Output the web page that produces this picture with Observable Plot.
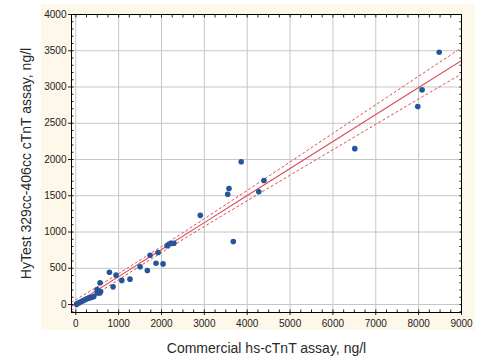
<!DOCTYPE html>
<html>
<head>
<meta charset="utf-8">
<script src="https://cdn.jsdelivr.net/npm/d3@7"></script>
<script src="https://cdn.jsdelivr.net/npm/@observablehq/plot@0.6"></script>
<style>
  body { margin: 0; background: #ffffff; }
  #wrap { position: relative; width: 504px; height: 364px; overflow: hidden; }
  #panel { position: absolute; left: 41px; top: 4px; width: 434px; height: 326px; background: #fdf8ea; }
  #chart { position: absolute; left: 0; top: 0; }
</style>
</head>
<body>
<div id="wrap"><div id="panel"></div><div id="chart"></div></div>
<script>
// Data
const commercial = [20, 60, 100, 140, 180, 220, 260, 300, 340, 380, 420,
  497, 500, 520, 540, 560, 580, 567, 785, 870, 940, 1073, 1265, 1500, 1670,
  1733, 1873, 1920, 2036, 2130, 2180, 2230, 2290, 2905, 3545, 3575, 3675,
  3860, 4270, 4390, 6510, 7980, 8080, 8480];
const hytest = [5, 20, 30, 45, 55, 70, 80, 90, 95, 100, 110,
  207, 160, 175, 185, 160, 180, 300, 446, 244, 405, 333, 350, 520, 470,
  680, 570, 717, 560, 810, 835, 845, 845, 1230, 1520, 1600, 870,
  1970, 1555, 1710, 2150, 2730, 2960, 3480];

// Regression line and its confidence band
const bandX = [-100, 0, 1000, 2000, 3000, 4000, 5000, 6000, 7000, 8000, 9000];
const fitY = [-24, 13, 385, 758, 1130, 1503, 1875, 2248, 2620, 2992, 3365];
const upperY = [31, 66, 427, 800, 1183, 1574, 1966, 2361, 2755, 3149, 3540];
const lowerY = [-79, -40, 343, 716, 1077, 1432, 1784, 2135, 2485, 2835, 3180];

const xTicks = [0, 1000, 2000, 3000, 4000, 5000, 6000, 7000, 8000, 9000];
const yTicks = [0, 500, 1000, 1500, 2000, 2500, 3000, 3500, 4000];
const xMinor = d3.range(0, 9001, 250);
const yMinor = d3.range(-100, 4001, 100);

const points = commercial.map((c, i) => ({x: c, y: hytest[i]}));
const band = bandX.map((x, i) => ({x, fit: fitY[i], up: upperY[i], lo: lowerY[i]}));

const red = "#dd4a52";
const fmt = d => String(d);
const chart = Plot.plot({
  width: 504,
  height: 364,
  marginLeft: 71,
  marginRight: 43,
  marginTop: 14,
  marginBottom: 52,
  style: {background: "transparent", fontFamily: "'Liberation Sans', Arial, sans-serif", fontSize: "10px", color: "#222"},
  x: {domain: [-100, 9000]},
  y: {domain: [-110, 4000]},
  marks: [
    Plot.frame({fill: "#ffffff", stroke: "none"}),
    Plot.gridX(xTicks, {stroke: "#c6c6c6", strokeOpacity: 1, strokeWidth: 1}),
    Plot.gridY(yTicks, {stroke: "#c6c6c6", strokeOpacity: 1, strokeWidth: 1}),
    Plot.line(band, {x: "x", y: "up", stroke: red, strokeWidth: 1, strokeDasharray: "2,3", curve: "catmull-rom", clip: true}),
    Plot.line(band, {x: "x", y: "lo", stroke: red, strokeWidth: 1, strokeDasharray: "2,3", curve: "catmull-rom", clip: true}),
    Plot.line(band, {x: "x", y: "fit", stroke: red, strokeWidth: 1.1, clip: true}),
    Plot.dot(points, {x: "x", y: "y", r: 2.8, fill: "#24559c", stroke: "none"}),
    Plot.axisX(xTicks, {anchor: "bottom", tickSize: 3, tickPadding: 4, tickFormat: fmt, label: "Commercial hs-cTnT assay, ng/l", labelAnchor: "center", labelArrow: "none", labelOffset: 40, fontSize: 10}),
    Plot.axisX(xMinor, {anchor: "bottom", tickSize: -2.5, text: null, label: null}),
    Plot.axisX(xMinor, {anchor: "top", tickSize: -2.5, text: null, label: null}),
    Plot.axisY(yTicks, {anchor: "left", tickSize: 3, tickPadding: 2, tickFormat: fmt, label: "HyTest 329cc-406cc cTnT assay, ng/l", labelAnchor: "center", labelArrow: "none", labelOffset: 50}),
    Plot.axisY(yMinor, {anchor: "left", tickSize: -2.5, text: null, label: null}),
    Plot.axisY(yMinor, {anchor: "right", tickSize: -2.5, text: null, label: null}),
    Plot.frame({stroke: "#000", strokeWidth: 1})
  ]
});
chart.querySelectorAll("[aria-label='x-axis label'] text, [aria-label='y-axis label'] text").forEach(t => {
  t.style.fontSize = "14px";
  t.style.fill = "#2a2a2a";
});
document.getElementById("chart").appendChild(chart);
</script>
</body>
</html>
